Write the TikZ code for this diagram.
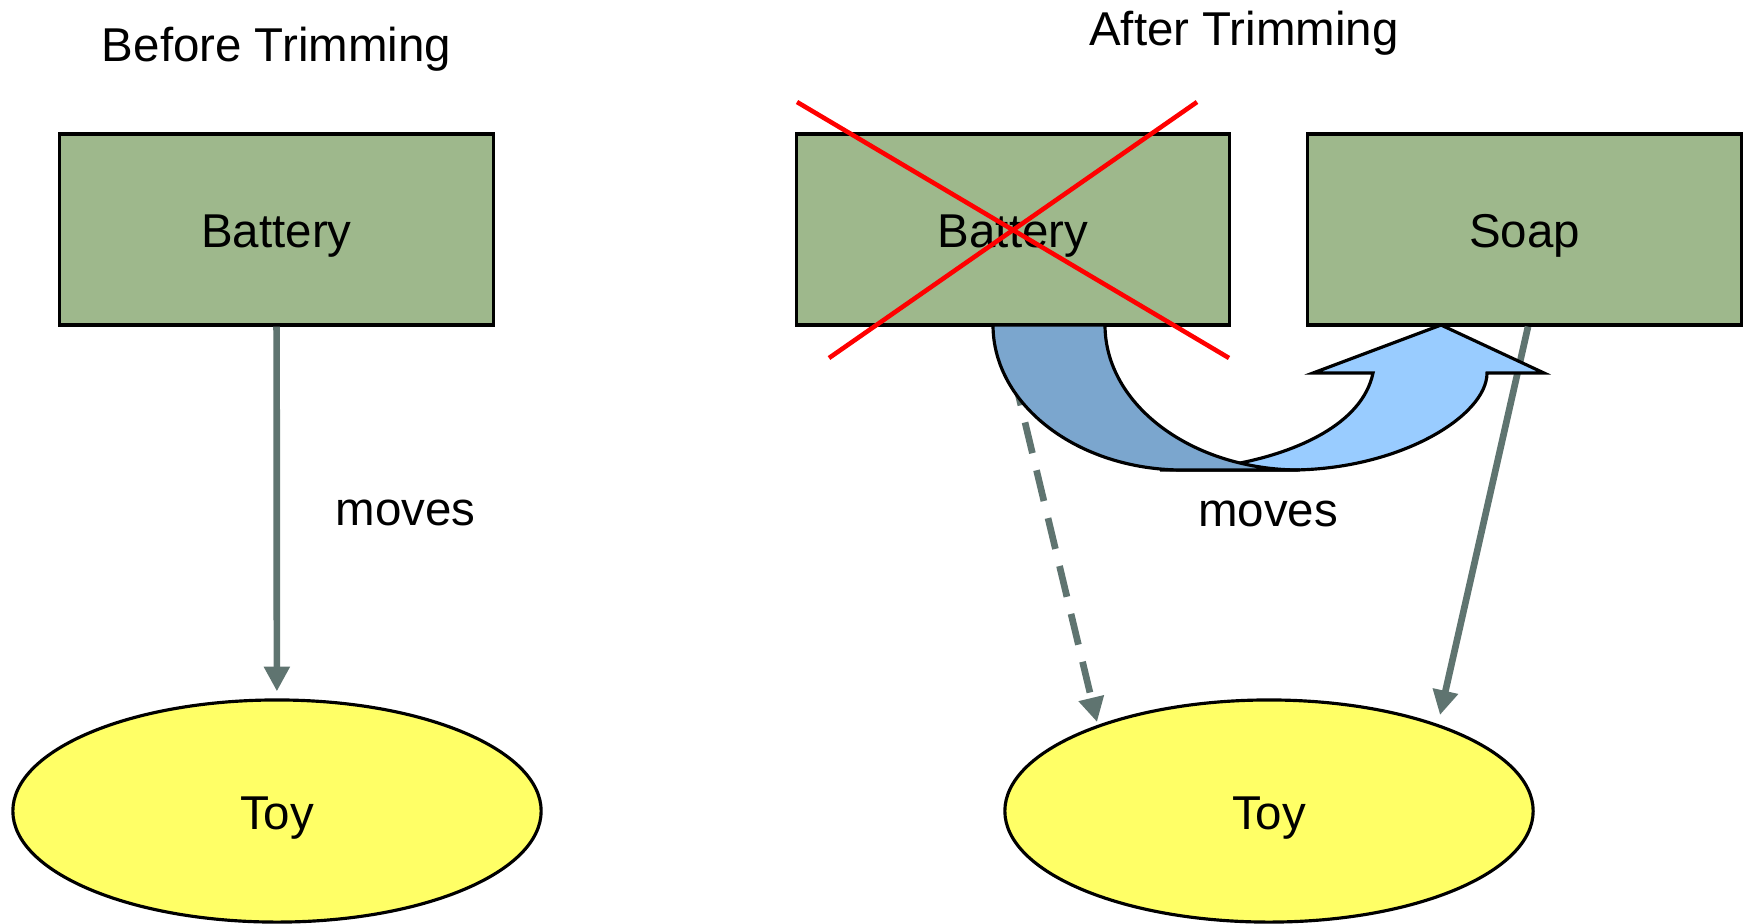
\documentclass[tikz,border=0pt]{standalone}
\usepackage{fontspec}
\setmainfont{Liberation Sans}
\usetikzlibrary{positioning,shapes.geometric,arrows.meta}
\definecolor{boxGreen}{RGB}{158,184,140}
\definecolor{toyYellow}{RGB}{255,255,102}
\definecolor{flowGray}{RGB}{95,116,112}
\definecolor{bendDark}{RGB}{123,166,206}
\definecolor{bendLight}{RGB}{153,204,255}

\begin{document}
\begin{tikzpicture}[
    x=0.01cm, y=-0.01cm,
    font=\fontsize{13.5}{16}\selectfont,
    box/.style={%
      draw,
      line width=0.9pt,
      rectangle,
      fill=boxGreen,
      minimum width=4.33cm,
      minimum height=1.91cm,
      text height=10.4pt,
      text depth=0pt,
    },
    toy/.style={%
      draw,
      line width=0.9pt,
      ellipse,
      fill=toyYellow,
      minimum width=5.28cm,
      minimum height=2.22cm,
      text height=10.4pt,
      text depth=0pt,
    },
    flow/.style={%
      draw=flowGray,
      line width=1.9pt,
      -{Triangle[length=7pt,width=7pt]},
    },
    cross/.style={draw=red, line width=1.3pt},
    bendArrow/.style={draw, line width=0.9pt},
  ]

    \useasboundingbox (0,0) rectangle (1752,923);

    \node [box] (battA) at (276.5,229.5) {Battery};
    \path (battA) ++(0,-180.5) node (titleA) {Before Trimming};
    \path (battA) ++(0.5,581.5) node [toy] (toyA) {Toy};

    \node [box] (battB) at (1013,229.5) {Battery};
    \path (battB) ++(511.5,0) node [box] (soap) {Soap};
    \path (battB) ++(256,581.5) node [toy] (toyB) {Toy};
    \path (battB) ++(231,-196) node (titleB) {After Trimming};
    \path (toyB) ++(-1,-297.5) node (movesB) {moves};

    \coordinate (dashTip) at (1097,722);
    \coordinate (soapTip) at (1440,715);

    \draw [flow, shorten >=2pt] (battA) -- (toyA) node [pos=0.502, anchor=west, xshift=0.44cm] (movesA) {moves};
    \draw [flow, dash pattern=on 9pt off 5pt] ([xshift=-0.11cm]battB.south) -- (dashTip);
    \draw [flow] ([xshift=0.035cm]soap.south) -- (soapTip);

    \draw [bendArrow, fill=bendLight] (1160,470) -- (1290,470) .. controls (1399,470) and (1487,416) .. (1487,373) -- (1544,373) -- (1441,325) -- (1313,373) -- (1373,373) .. controls (1362,425) and (1295,452) .. (1240,463) -- cycle;
    \draw [bendArrow, fill=bendDark] (993,325) .. controls (993,405) and (1078,470) .. (1183,470) -- (1300,470) .. controls (1192,470) and (1105,405) .. (1105,325) -- cycle;

    \draw [cross] (797,102) -- (1229,358);
    \draw [cross] (1197,102) -- (829,358);

\end{tikzpicture}
\end{document}
